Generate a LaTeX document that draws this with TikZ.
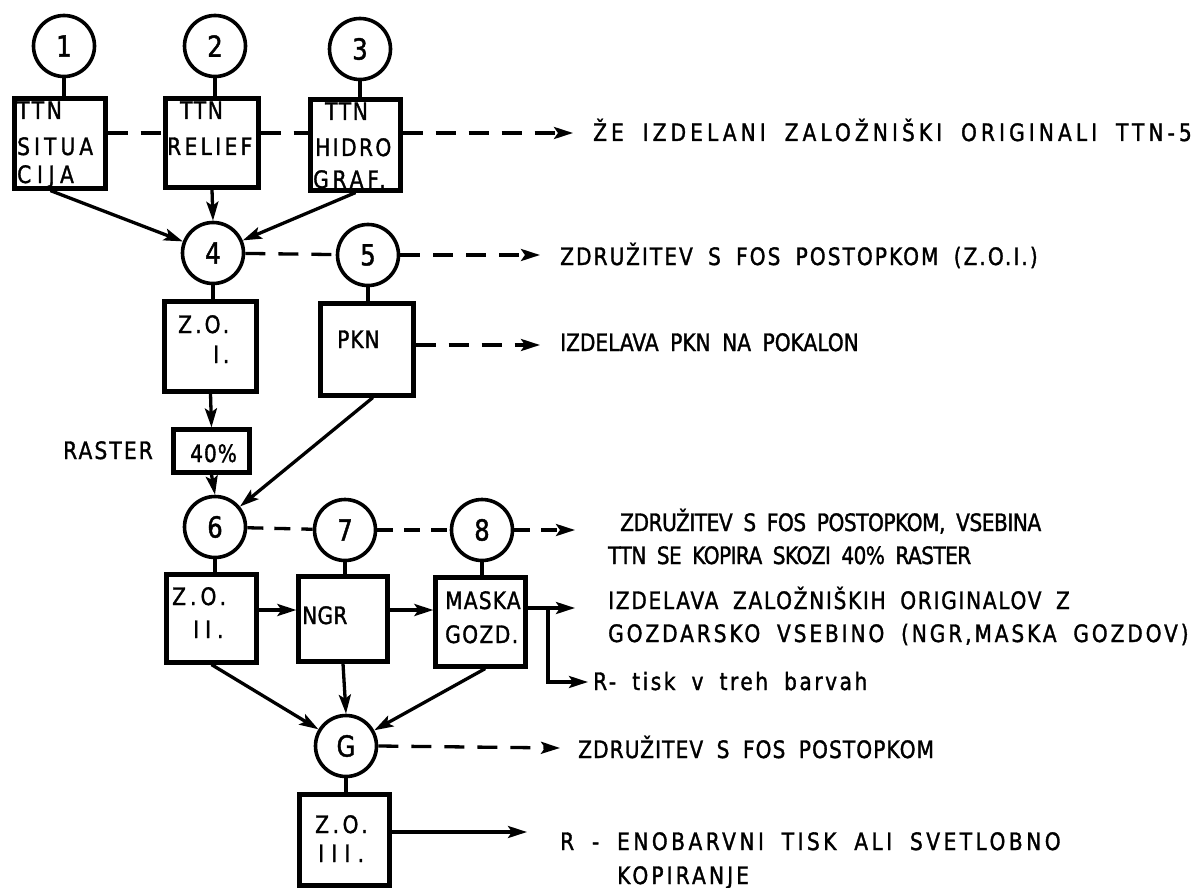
\documentclass[tikz,border=0pt]{standalone}
\usepackage{fontspec}
\setmainfont{DejaVu Sans}[FakeStretch=0.84, FakeBold=1.4, WordSpace=1.8]
\usetikzlibrary{arrows.meta,calc}
\newcommand{\lsp}[1]{\addfontfeature{LetterSpace=#1}}
\begin{document}
\begin{tikzpicture}[x=1pt,y=-1pt,
  box/.style={draw, line width=4.2pt, inner sep=0pt},
  circ/.style={draw, circle, line width=3.6pt, minimum size=61pt, inner sep=0pt, font=\fontsize{29}{34}\selectfont},
  txt/.style={anchor=base west, inner sep=0pt, font=\fontsize{24}{30}\selectfont},
  conn/.style={line width=3.3pt},
  tip/.style={-{Stealth[length=19pt,width=12pt,inset=4pt]}},
  arr/.style={conn, tip},
  dsh/.style={conn, dash pattern=on 20pt off 13pt},
  dsharr/.style={dsh, tip}]
\useasboundingbox (0,0) rectangle (1202,888);

% circles
\node[circ] (c1) at (64,46) {1};
\node[circ] (c2) at (215,46) {2};
\node[circ] (c3) at (360,49) {3};
\node[circ] (c4) at (213,253) {4};
\node[circ] (c5) at (368,255) {5};
\node[circ] (c6) at (215,527) {6};
\node[circ] (c7) at (345,530) {7};
\node[circ] (c8) at (482,530) {8};
\node[circ] (cG) at (346,746) {G};

% boxes
\node[box, minimum width=91pt, minimum height=90pt] (b1) at (60,143.5) {};
\node[box, minimum width=93pt, minimum height=89pt] (b2) at (212,143) {};
\node[box, minimum width=90pt, minimum height=91pt] (b3) at (355.5,145) {};
\node[box, minimum width=92pt, minimum height=90pt] (bZ1) at (210.5,346.5) {};
\node[box, minimum width=93pt, minimum height=92pt] (bPKN) at (367,349.5) {};
\node[box, minimum width=76pt, minimum height=43pt] (b40) at (211.5,451) {};
\node[box, minimum width=90pt, minimum height=88pt] (bZ2) at (211.5,618.5) {};
\node[box, minimum width=89pt, minimum height=85pt] (bNGR) at (343,619) {};
\node[box, minimum width=90pt, minimum height=89pt] (bM) at (480.5,622) {};
\node[box, minimum width=90pt, minimum height=91pt] (bZ3) at (344.5,840) {};

% box texts
\node[txt] (t1a) at (17,119) {\lsp{11}TTN};
\node[txt] (t1b) at (17,155) {\lsp{17}SITUA};
\node[txt] (t1c) at (17,183) {\lsp{24}CIJA};
\node[txt] (t2a) at (180,119) {\lsp{7}TTN};
\node[txt] (t2b) at (167,155) {\lsp{14}RELIEF};
\node[txt] (t3a) at (325,120) {\lsp{7}TTN};
\node[txt] (t3b) at (315,156) {\lsp{10}HIDRO};
\node[txt] (t3c) at (313,188) {\lsp{16}GRAF.};
\node[txt] (tZ1a) at (178,333) {\lsp{13}Z.O.};
\node[txt] (tZ1b) at (213,363) {\lsp{16}I.};
\node[txt] (tPKN) at (337,348) {\lsp{4}PKN};
\node[txt] (t40) at (190,462) {\lsp{4}40\%};
\node[txt] (tRas) at (63,459) {\lsp{9}RASTER};
\node[txt] (tZ2a) at (172,605) {\lsp{17}Z.O.};
\node[txt] (tZ2b) at (193,638) {\lsp{25}II.};
\node[txt] (tNGR) at (302,624) {\lsp{1}NGR};
\node[txt] (tMa) at (445,609) {\lsp{5}MASKA};
\node[txt] (tMb) at (445,643) {\lsp{6}GOZD.};
\node[txt] (tZ3a) at (315,833) {\lsp{15}Z.O.};
\node[txt] (tZ3b) at (318,862) {\lsp{30}III.};

% free ends
\coordinate (e1) at (573,133);
\coordinate (e2) at (540,255);
\coordinate (e3) at (540,345);
\coordinate (e4) at (575,530);
\coordinate (e5) at (575,608);
\coordinate (br) at (548,608);
\coordinate (brd) at (548,682);
\coordinate (e6) at (588,682);
\coordinate (e7) at (560,748);
\coordinate (e8) at (527,832);

% right-hand texts
\node[txt] (r1) at (593,141) {\lsp{17}ŽE IZDELANI ZALOŽNIŠKI ORIGINALI TTN-5};
\node[txt] (r2) at (560,265) {\lsp{8.5}ZDRUŽITEV S FOS POSTOPKOM (Z.O.I.)};
\node[txt] (r3) at (560,351) {\lsp{0}IZDELAVA PKN NA POKALON};
\node[txt] (r4) at (620,531) {\lsp{-2}ZDRUŽITEV S FOS POSTOPKOM, VSEBINA};
\node[txt] (r5) at (608,564) {\lsp{-2.5}TTN SE KOPIRA SKOZI 40\% RASTER};
\node[txt] (r6) at (608,609) {\lsp{7}IZDELAVA ZALOŽNIŠKIH ORIGINALOV Z};
\node[txt] (r7) at (608,642) {\lsp{12}GOZDARSKO VSEBINO (NGR,MASKA GOZDOV)};
\node[txt] (r8) at (593,690) {\lsp{10.5}R- tisk v treh barvah};
\node[txt] (r9) at (578,758) {\lsp{4.5}ZDRUŽITEV S FOS POSTOPKOM};
\node[txt] (r10) at (560,850) {\lsp{14.5}R - ENOBARVNI TISK ALI SVETLOBNO};
\node[txt] (r11) at (617,884) {\lsp{13}KOPIRANJE};

% connectors: circles to boxes
\draw[conn] (c1.south) -- (c1.south |- b1.north);
\draw[conn] (c2.south) -- (c2.south |- b2.north);
\draw[conn] (c3.south) -- (c3.south |- b3.north);
\draw[conn] (c4.south) -- (c4.south |- bZ1.north);
\draw[conn] (c5.south) -- (c5.south |- bPKN.north);
\draw[conn] (c6.south) -- (c6.south |- bZ2.north);
\draw[conn] (c7.south) -- (c7.south |- bNGR.north);
\draw[conn] (c8.south) -- (c8.south |- bM.north);
\draw[conn] (cG.south) -- (cG.south |- bZ3.north);

% top row
\draw[dsh] (b1.east |- 0,133) -- (b2.west |- 0,133);
\draw[dsh] (b2.east |- 0,133) -- (b3.west |- 0,133);
\draw[dsharr] (b3.east |- 0,133) -- (e1);
\draw[arr] ($(b1.south west)!0.4!(b1.south east)$) -- (c4);
\draw[arr] (b2.south) -- (c4.north);
\draw[arr] (b3.south) -- (c4);

% second row
\draw[dsh] (c4) -- (c5);
\draw[dsharr] (c5.east) -- (e2);
\draw[dsharr] (bPKN.east |- e3) -- (e3);
\draw[arr] (bZ1.south) -- (b40.north);
\draw[arr] (b40.south) -- (c6.north);
\draw[arr] ($(bPKN.south west)!0.56!(bPKN.south east)$) -- (c6);

% third row
\draw[conn, dash pattern=on 16pt off 11pt] (c6) -- (c7);
\draw[conn, dash pattern=on 16pt off 11pt] (c7) -- (c8);
\draw[conn, dash pattern=on 16pt off 11pt, tip] (c8.east) -- (e4);
\draw[arr] (bZ2.east |- 0,610) -- (bNGR.west |- 0,610);
\draw[arr] (bNGR.east |- 0,610) -- (bM.west |- 0,610);
\draw[arr] (bM.east |- e5) -- (e5);
\draw[arr] (br) -- (brd) -- (e6);

% to G
\draw[arr] (bZ2.south) -- (cG);
\draw[arr] (bNGR.south) -- (cG.north);
\draw[arr] ($(bM.south west)!0.55!(bM.south east)$) -- (cG);
\draw[dsharr] (cG.east) -- (e7);
\draw[arr] (bZ3.east |- e8) -- (e8);
\end{tikzpicture}
\end{document}
